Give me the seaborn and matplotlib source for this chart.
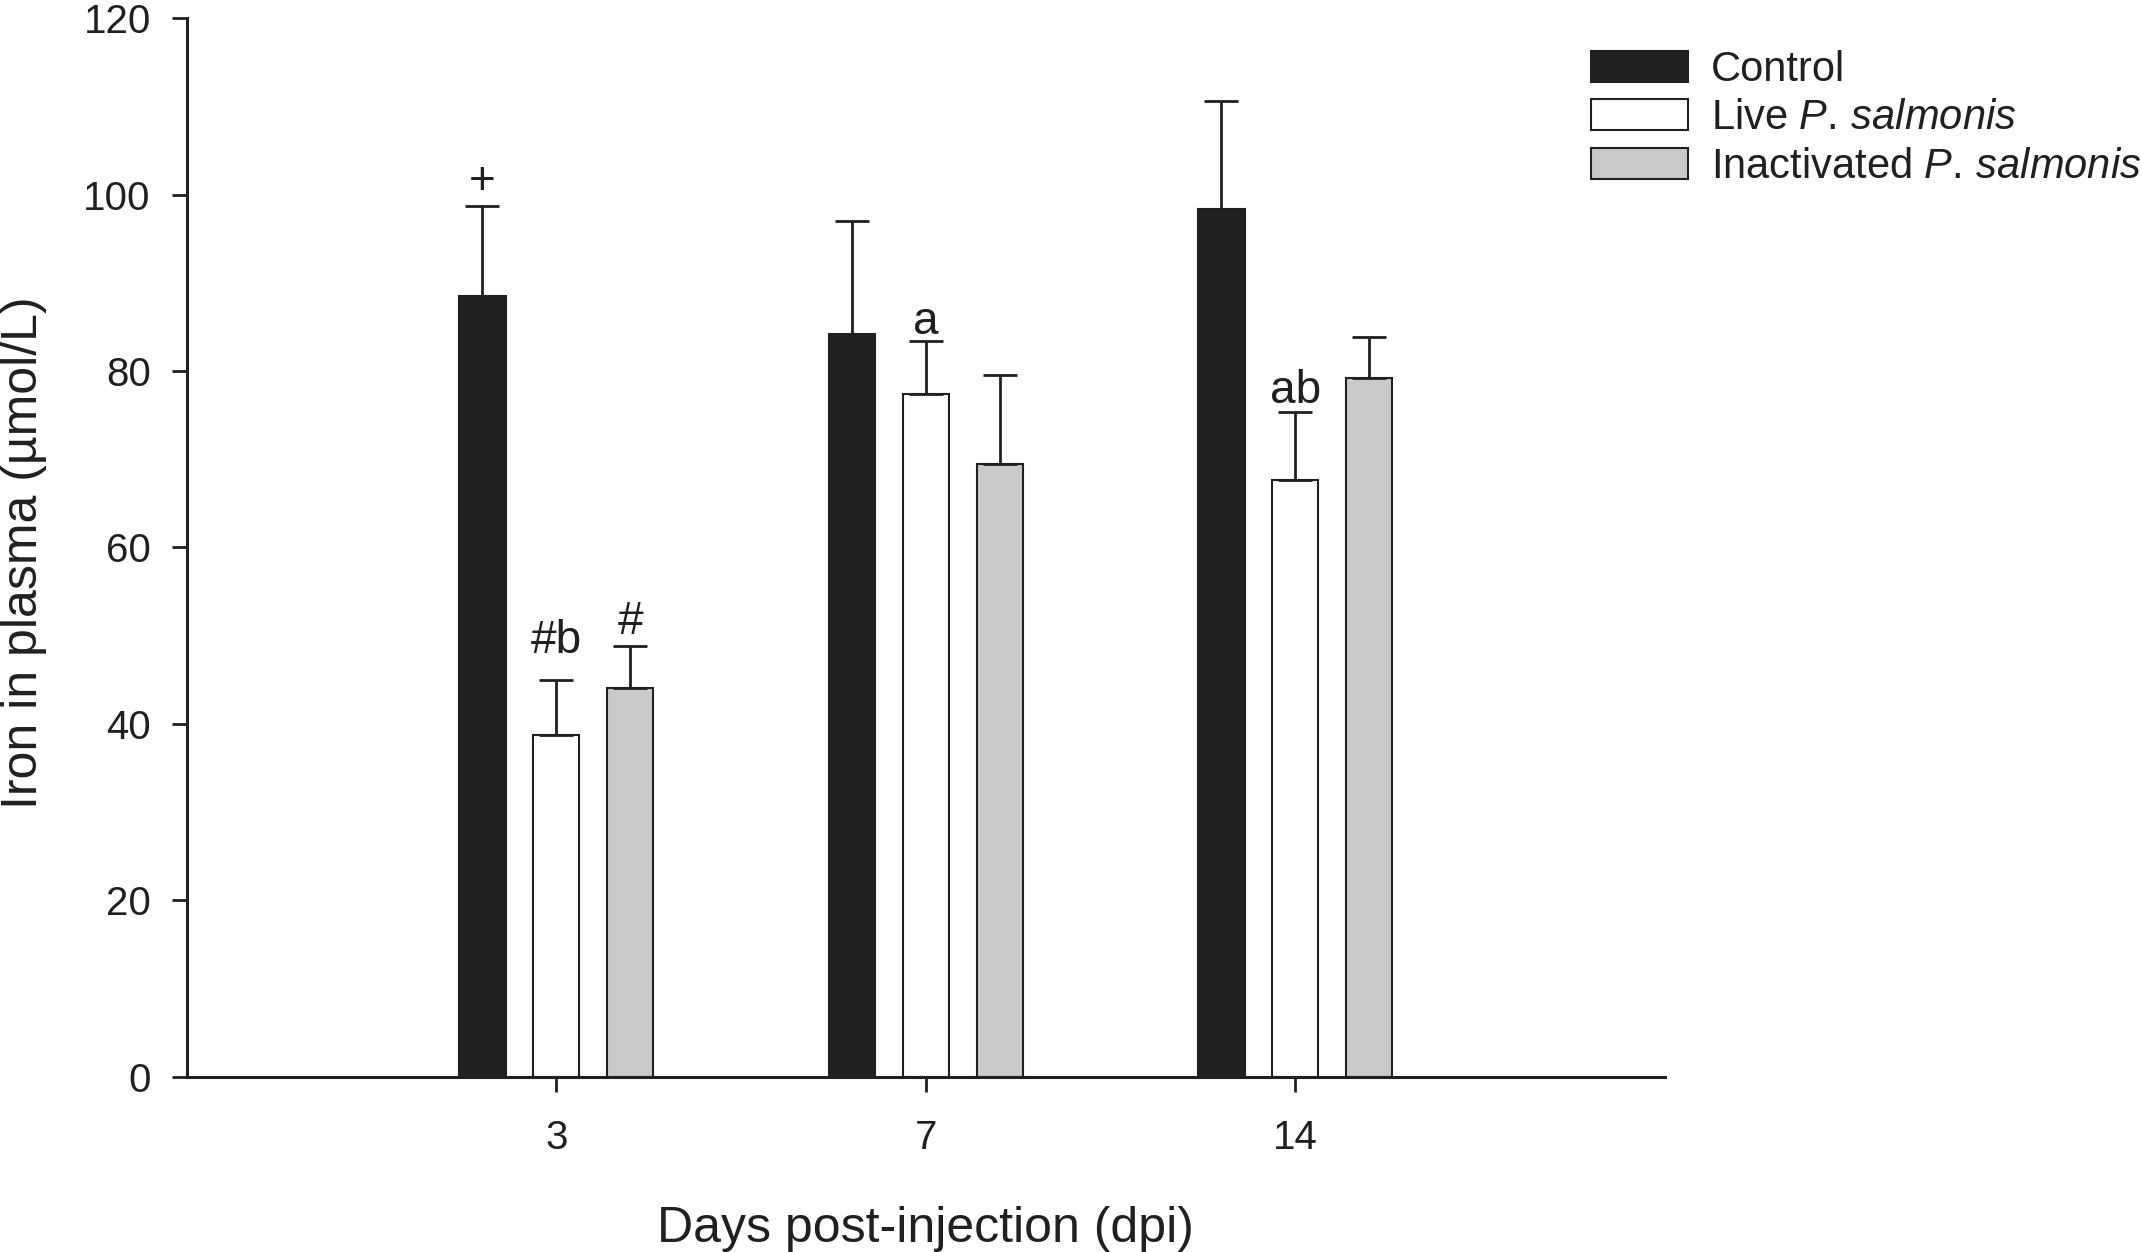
import pandas as pd
import matplotlib
matplotlib.use('Agg')
import matplotlib.pyplot as plt
import seaborn as sns

# values (mean + upper error)
days = ['3', '7', '14']
groups = ['Control', 'Live', 'Inactivated']
control_mean = [88.5, 84.2, 98.4]
control_err = [10.2, 12.8, 12.2]
live_mean = [38.7, 77.4, 67.6]
live_err = [6.3, 6.0, 7.8]
inact_mean = [44.1, 69.5, 79.2]
inact_err = [4.7, 10.0, 4.7]

legend_labels = ['Control', r'Live $\mathit{P.\,salmonis}$',
                 r'Inactivated $\mathit{P.\,salmonis}$']

# significance letters: (day index, group index, text, baseline y)
annot_day = [0, 0, 0, 1, 2]
annot_group = [0, 1, 2, 1, 1]
annot_text = ['+', '#b', '#', 'a', 'ab']
annot_y = [100.1, 48.1, 50.2, 84.2, 76.4]

df = pd.DataFrame({
    'day': days * 3,
    'group': [g for g in groups for _ in days],
    'value': control_mean + live_mean + inact_mean,
})
errs = [control_err, live_err, inact_err]

sns.set_style('ticks')
plt.rcParams['font.family'] = ['Liberation Sans', 'DejaVu Sans']
plt.rcParams['mathtext.fontset'] = 'custom'
plt.rcParams['mathtext.rm'] = 'Liberation Sans'
plt.rcParams['mathtext.it'] = 'Liberation Sans:italic'

dark = '#231f20'
fig = plt.figure(figsize=(21.41, 12.52), dpi=100)
ax = fig.add_axes([0.0873, 0.1398, 0.6903, 0.8458])

sns.barplot(data=df, x='day', y='value', hue='group', order=days, hue_order=groups,
            palette=[dark, 'white', '#c8c9cb'], width=0.6, gap=0.375,
            edgecolor=dark, linewidth=1.5, errorbar=None, ax=ax)
bars = list(ax.containers)
ax.get_legend().remove()

for cont, err in zip(bars, errs):
    xs = [p.get_x() + p.get_width() / 2 for p in cont.patches]
    ys = [p.get_height() for p in cont.patches]
    ax.errorbar(xs, ys, yerr=[[0] * len(err), err], fmt='none', ecolor=dark,
                elinewidth=2, capsize=12, capthick=2, zorder=1)

for d, g, t, y in zip(annot_day, annot_group, annot_text, annot_y):
    p = bars[g].patches[d]
    ax.text(p.get_x() + p.get_width() / 2, y, t, ha='center', va='baseline',
            fontsize=33, color=dark)

ax.set_xlim(-1.0, 3.0)
ax.set_ylim(0, 120)
ax.set_yticks(range(0, 121, 20))
sns.despine(ax=ax)
for s in ['left', 'bottom']:
    ax.spines[s].set_linewidth(2.2)
    ax.spines[s].set_color(dark)
ax.tick_params(axis='both', direction='out', length=11, width=2, color=dark,
               labelsize=29, labelcolor=dark)
ax.tick_params(axis='y', pad=15)
ax.tick_params(axis='x', pad=19)

ax.set_xlabel('Days post-injection (dpi)', fontsize=36, color=dark, va='baseline')
ax.xaxis.set_label_coords(0.5, -0.1558)
ax.set_ylabel('Iron in plasma (µmol/L)', fontsize=36, color=dark)
ax.yaxis.set_label_coords(-0.0947, 0.495)

fig.legend(bars, legend_labels, loc='upper left', bbox_to_anchor=(1591 / 2141, 0.960),
           frameon=False, fontsize=30, handlelength=2.33, handleheight=0.77,
           handletextpad=0.55, labelspacing=0.2, borderpad=0, borderaxespad=0,
           labelcolor=dark)

fig.savefig('out.png', dpi=100)
